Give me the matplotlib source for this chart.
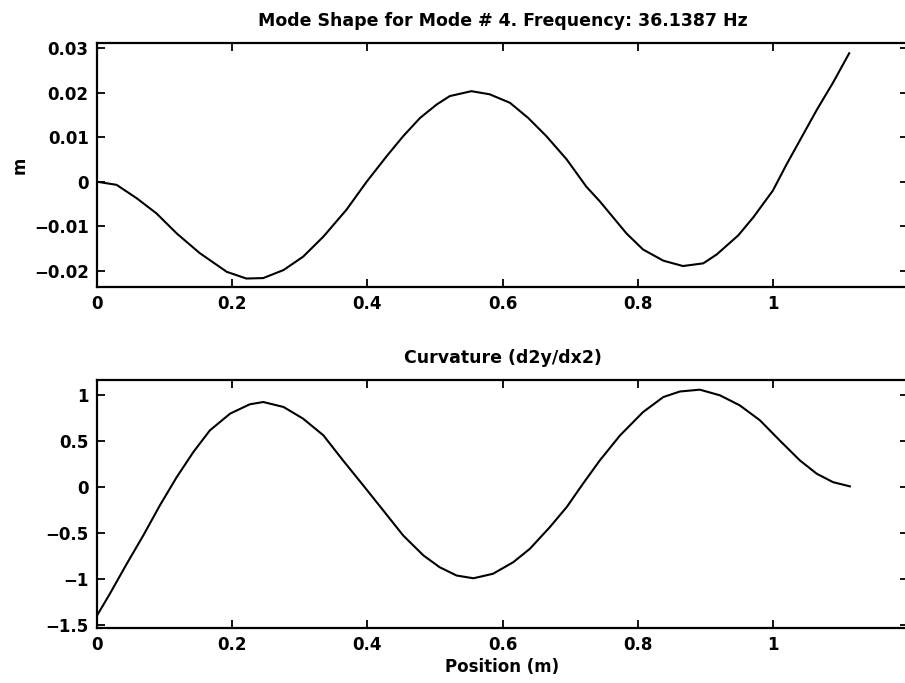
import matplotlib
matplotlib.use('Agg')
import matplotlib.pyplot as plt

# mode 4 shape, sampled along the beam (position in m, deflection in m)
pos_shape = [0.0, 0.029, 0.0587, 0.088, 0.118, 0.152, 0.192, 0.221, 0.246, 0.276,
             0.305, 0.335, 0.369, 0.399, 0.4285, 0.453, 0.478, 0.5025, 0.522, 0.554,
             0.581, 0.611, 0.638, 0.665, 0.695, 0.724, 0.744, 0.7835, 0.808, 0.838,
             0.867, 0.897, 0.917, 0.949, 0.971, 1.0, 1.020, 1.065, 1.089, 1.113]
shape = [0.0, -0.0007, -0.0037, -0.0071, -0.0116, -0.016, -0.0202, -0.0217, -0.0216, -0.0198,
         -0.0168, -0.0123, -0.0063, 0.0, 0.0057, 0.0102, 0.0143, 0.0173, 0.0192, 0.0203,
         0.0196, 0.0177, 0.0143, 0.0102, 0.005, -0.0011, -0.0044, -0.0116, -0.0152, -0.0177,
         -0.0189, -0.0183, -0.0163, -0.0120, -0.0080, -0.0020, 0.0038, 0.0161, 0.0222, 0.0288]

# curvature d2y/dx2 of the same mode
pos_curv = [0.0, 0.019, 0.044, 0.0685, 0.093, 0.118, 0.1425, 0.167, 0.197, 0.226,
            0.246, 0.276, 0.305, 0.335, 0.364, 0.394, 0.4235, 0.453, 0.483, 0.507,
            0.532, 0.557, 0.586, 0.616, 0.6405, 0.670, 0.695, 0.719, 0.744, 0.774,
            0.808, 0.838, 0.8624, 0.892, 0.9216, 0.951, 0.981, 1.010, 1.040, 1.065,
            1.089, 1.114]
curv = [-1.395, -1.159, -0.833, -0.525, -0.199, 0.109, 0.380, 0.616, 0.798, 0.899,
        0.924, 0.870, 0.743, 0.562, 0.29, 0.018, -0.253, -0.525, -0.742, -0.87,
        -0.96, -0.99, -0.941, -0.815, -0.67, -0.435, -0.217, 0.036, 0.29, 0.562,
        0.815, 0.978, 1.038, 1.058, 0.997, 0.888, 0.725, 0.508, 0.29, 0.145,
        0.054, 0.008]

x_ticks = [0, 0.2, 0.4, 0.6, 0.8, 1]
x_labels = ['0', '0.2', '0.4', '0.6', '0.8', '1']
shape_ticks = [-0.02, -0.01, 0, 0.01, 0.02, 0.03]
shape_labels = ['\u22120.02', '\u22120.01', '0', '0.01', '0.02', '0.03']
curv_ticks = [-1.5, -1, -0.5, 0, 0.5, 1]
curv_labels = ['\u22121.5', '\u22121', '\u22120.5', '0', '0.5', '1']

plt.rcParams['font.family'] = ['DejaVu Sans']
plt.rcParams['font.weight'] = 'bold'
FS = 12
TFS = 12.5

W, H = 905, 683
fig = plt.figure(figsize=(W / 100, H / 100), dpi=100)

def make_axes(top, bottom):
    ax = fig.add_axes([97 / W, 1 - bottom / H, 811 / W, (bottom - top) / H])
    ax.set_xlim(0, 1.2)
    ax.set_xticks(x_ticks)
    ax.set_xticklabels(x_labels)
    ax.tick_params(direction='in', top=True, right=True, length=6, width=1.3,
                   labelsize=FS, pad=6, colors='black')
    for s in ax.spines.values():
        s.set_linewidth(1.6)
    return ax

ax1 = make_axes(43, 287)
ax1.plot(pos_shape, shape, color='black', lw=1.5)
ax1.set_ylim(-0.0236, 0.0311)
ax1.set_yticks(shape_ticks)
ax1.set_yticklabels(shape_labels)
ax1.set_ylabel('m', fontsize=FS, fontweight='bold', labelpad=4)
ax1.set_title('Mode Shape for Mode # 4. Frequency: 36.1387 Hz',
              fontsize=TFS, fontweight='bold', pad=12)

ax2 = make_axes(380, 628)
ax2.plot(pos_curv, curv, color='black', lw=1.5)
ax2.set_ylim(-1.53, 1.163)
ax2.set_yticks(curv_ticks)
ax2.set_yticklabels(curv_labels)
ax2.set_xlabel('Position (m)', fontsize=FS, fontweight='bold', labelpad=3)
ax2.set_title('Curvature (d2y/dx2)', fontsize=TFS, fontweight='bold', pad=12)

fig.savefig('out.png', dpi=100)
